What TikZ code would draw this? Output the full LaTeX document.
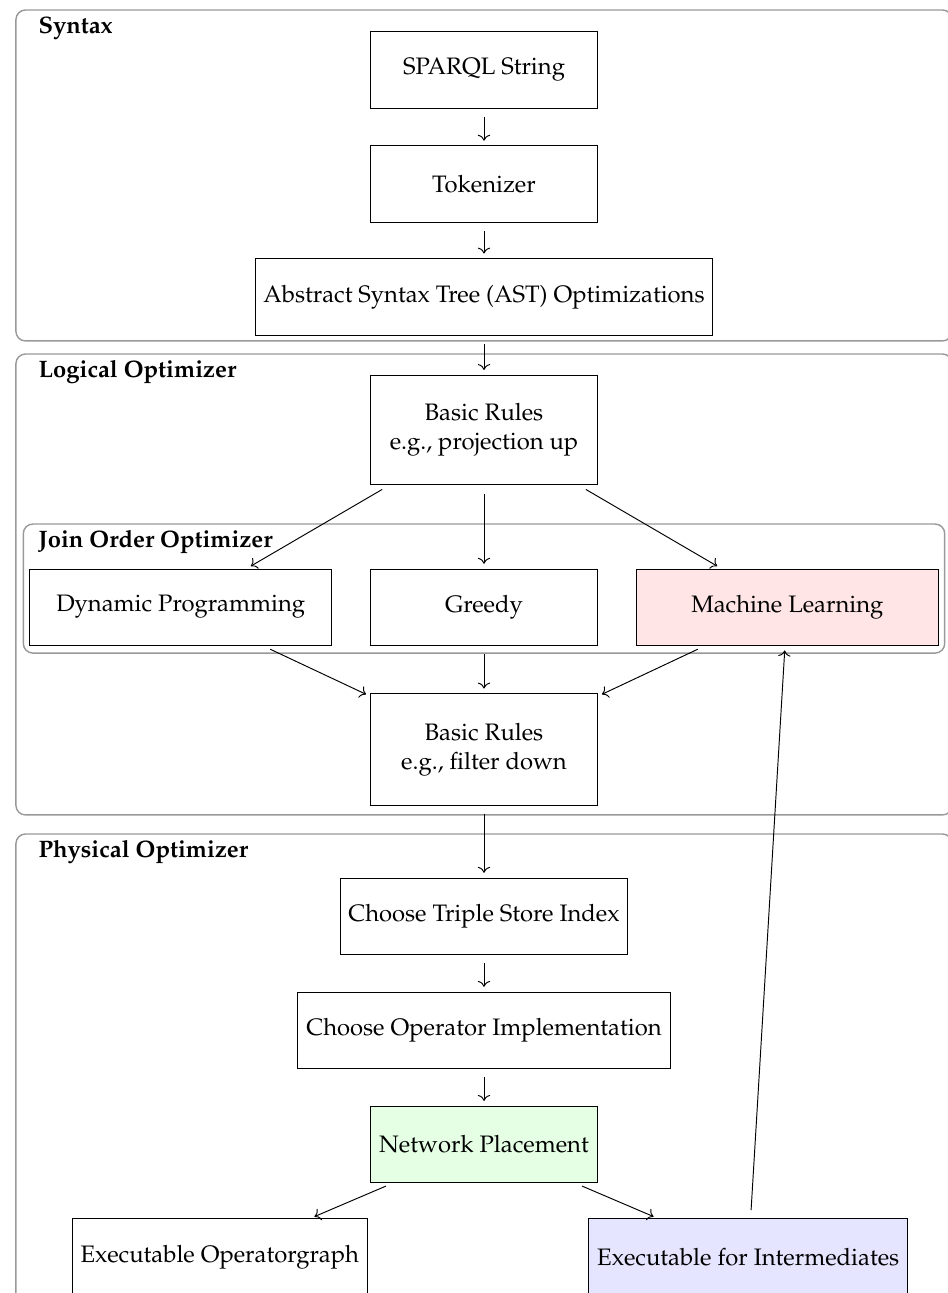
\documentclass[tikz,border=0pt]{standalone}
\usepackage[T1]{fontenc}
\usepackage{mathpazo}
\usepackage{xcolor}
\usepackage{tikz}
\usetikzlibrary{arrows.meta, positioning, backgrounds}

\tikzset{
    stage/.style={draw, rectangle, align=center, minimum height=32pt, minimum width=95pt},
    container/.style={draw=gray!80, rounded corners=4pt, line width=0.6pt},
    heading/.style={font=\bfseries, anchor=base west, inner sep=0pt},
    flow/.style={->, shorten <=3.5pt, shorten >=2pt},
}

\begin{document}
\begin{tikzpicture}[node distance=15.5pt]
    \useasboundingbox (-203.3pt,29.4pt) rectangle (194.5pt,-513.7pt);
    \clip (-203.3pt,29.4pt) rectangle (194.5pt,-513.7pt);

    % Syntax
    \node[stage] (sparql) {SPARQL String};
    \node[stage, below=of sparql] (tokenizer) {Tokenizer};
    \node[stage, minimum width=0pt, below=15pt of tokenizer] (ast) {Abstract Syntax Tree (AST) Optimizations};

    % Logical optimizer
    \node[stage, minimum height=46pt, below=16.5pt of ast] (projup) {Basic Rules\\e.g., projection up};
    \node[stage, below=35pt of projup] (greedy) {Greedy};
    \node[stage, minimum width=127pt, left=16pt of greedy] (dynprog) {Dynamic Programming};
    \node[stage, minimum width=127pt, fill=red!10, right=16pt of greedy] (mlearn) {Machine Learning};
    \node[stage, minimum height=47pt, below=20pt of greedy] (filterdown) {Basic Rules\\e.g., filter down};

    % Physical optimizer
    \node[stage, minimum width=120.5pt, below=30pt of filterdown] (tripleidx) {Choose Triple Store Index};
    \node[stage, minimum width=156.7pt, below=of tripleidx] (opimpl) {Choose Operator Implementation};
    \node[stage, fill=green!10, below=of opimpl] (netplace) {Network Placement};
    \node[stage, minimum width=124pt, below=15pt of netplace, xshift=-111pt] (execop) {Executable Operatorgraph};
    \node[stage, minimum width=134pt, fill=blue!10, below=15pt of netplace, xshift=111pt] (execint) {Executable for Intermediates};

    % stage frames
    \begin{scope}[on background layer]
        \draw[container] (-196.6pt,25.2pt) rectangle (196.6pt,-113.8pt);
        \draw[container] (-196.6pt,-119.3pt) rectangle (196.6pt,-312.9pt);
        \draw[container] (-193.5pt,-190.7pt) rectangle (193.5pt,-244.9pt);
        \draw[container] (-196.6pt,-320.9pt) rectangle (196.6pt,-560pt);
    \end{scope}
    \node[heading] (syntaxlbl) at (-187.3pt,15.2pt) {Syntax};
    \node[heading] (logicallbl) at (-187.3pt,-129.3pt) {Logical Optimizer};
    \node[heading] (joinlbl) at (-187.3pt,-200.7pt) {Join Order Optimizer};
    \node[heading] (physicallbl) at (-187.3pt,-330.9pt) {Physical Optimizer};

    \draw[flow] (sparql) -- (tokenizer);
    \draw[flow] (tokenizer) -- (ast);
    \draw[flow] (ast) -- (projup);
    \draw[flow] (projup) -- (dynprog);
    \draw[flow] (projup) -- (greedy);
    \draw[flow] (projup) -- (mlearn);
    \draw[flow] (dynprog) -- (filterdown);
    \draw[flow] (greedy) -- (filterdown);
    \draw[flow] (mlearn) -- (filterdown);
    \draw[flow] (filterdown) -- (tripleidx);
    \draw[flow] (tripleidx) -- (opimpl);
    \draw[flow] (opimpl) -- (netplace);
    \draw[flow] (netplace) -- (execop);
    \draw[flow] (netplace) -- (execint);
    \draw[flow] (execint) -- (mlearn);
\end{tikzpicture}
\end{document}
